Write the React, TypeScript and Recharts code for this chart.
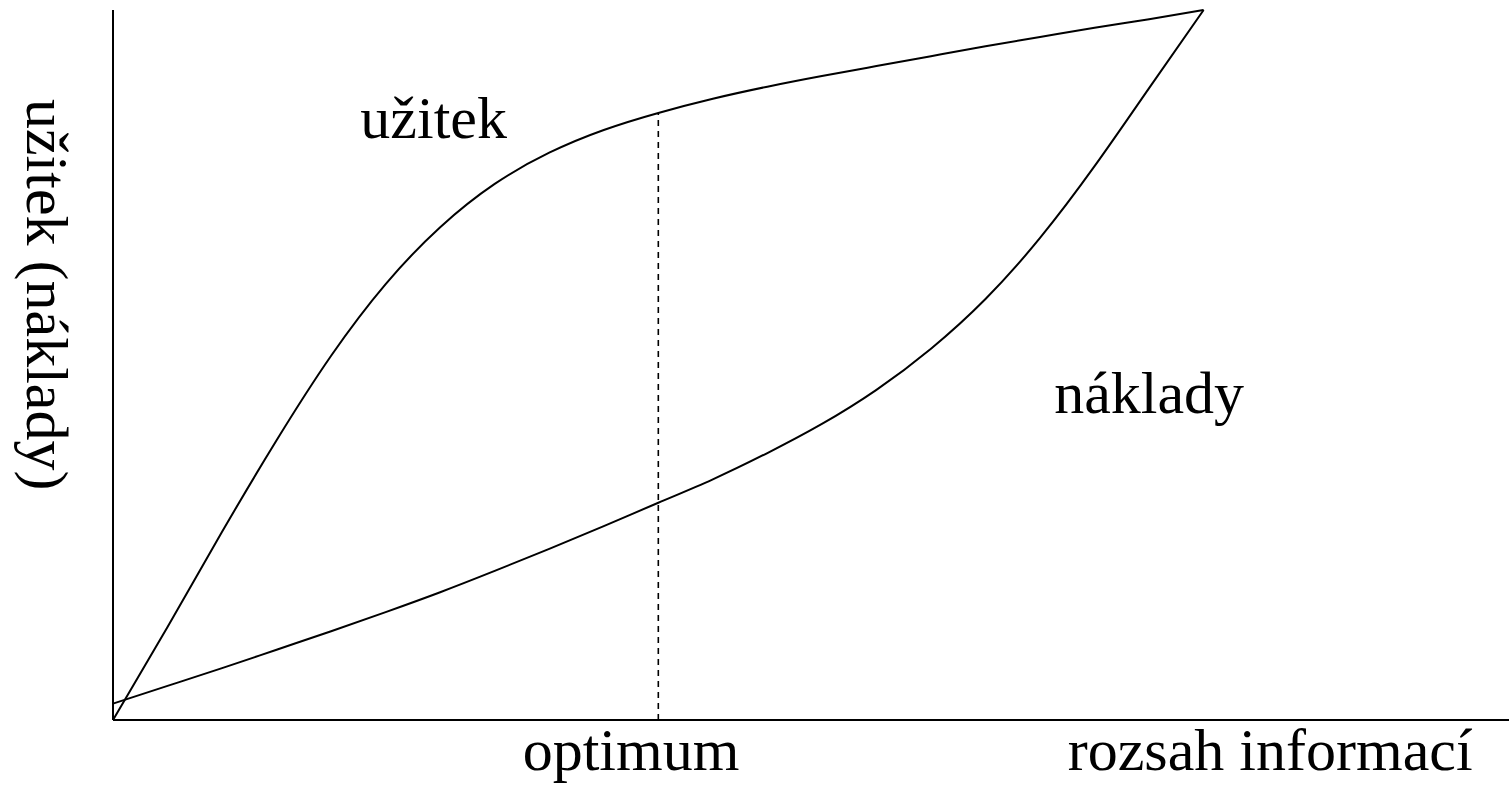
import { LineChart, Line, XAxis, YAxis, ReferenceLine, ReferenceDot } from "recharts";

// rozsah informací (0 = nic, 100 = bod, kde se křivky potkají)
const rozsah = [0, 5, 10, 15, 20, 25, 30, 35, 40, 45, 50, 55, 60, 65, 70, 75, 80, 85, 90, 95, 100];
const uzitek = [0, 13.1, 26.5, 39.4, 51.3, 61.4, 69.4, 75.5, 79.9, 83.1, 85.5, 87.5, 89.2, 90.7, 92.1, 93.5, 94.9, 96.2, 97.5, 98.7, 100];
const naklady = [2.3, 4.8, 7.3, 9.9, 12.5, 15.2, 18.0, 21.0, 24.1, 27.3, 30.6, 33.9, 37.6, 41.7, 46.5, 52.3, 59.3, 67.9, 78.0, 89.0, 100];

const optimum = 50;
const uzitekVOptimu = 85.5;

const data = rozsah.map((x, i) => ({ x, uzitek: uzitek[i], naklady: naklady[i] }));

const FONT = "'Liberation Serif', 'Times New Roman', serif";

function textLabel(value: string, rotate = false) {
  return (props: any) => {
    const vb = props.viewBox || {};
    const x = vb.x ?? 0;
    const y = vb.y ?? 0;
    return (
      <text
        x={x}
        y={y}
        textAnchor="middle"
        fontFamily={FONT}
        fontSize={60}
        fill="#000"
        transform={rotate ? `rotate(90 ${x} ${y})` : undefined}
      >
        {value}
      </text>
    );
  };
}

export default function App() {
  return (
    <div style={{ position: "absolute", left: 0, top: 0, background: "#fff" }}>
      <LineChart
        width={1509}
        height={785}
        data={data}
        margin={{ top: 10, right: 0, bottom: 64, left: 112 }}
      >
        <XAxis
          type="number"
          dataKey="x"
          domain={[0, 128]}
          height={1}
          tick={false}
          tickLine={false}
          axisLine={{ stroke: "#000", strokeWidth: 2 }}
        />
        <YAxis
          type="number"
          domain={[0, 100]}
          width={1}
          tick={false}
          tickLine={false}
          axisLine={{ stroke: "#000", strokeWidth: 2 }}
        />
        <ReferenceLine
          segment={[
            { x: optimum, y: 0 },
            { x: optimum, y: uzitekVOptimu },
          ]}
          stroke="#000"
          strokeWidth={1.6}
          strokeDasharray="6 5"
        />
        <Line
          type="natural"
          dataKey="uzitek"
          stroke="#000"
          strokeWidth={2}
          dot={false}
          isAnimationActive={false}
        />
        <Line
          type="natural"
          dataKey="naklady"
          stroke="#000"
          strokeWidth={2}
          dot={false}
          isAnimationActive={false}
        />
        <ReferenceDot x={29.4} y={82} r={0} ifOverflow="visible" label={textLabel("užitek")} />
        <ReferenceDot x={95} y={43.2} r={0} ifOverflow="visible" label={textLabel("náklady")} />
        <ReferenceDot x={47.5} y={-7} r={0} ifOverflow="visible" label={textLabel("optimum")} />
        <ReferenceDot x={106.1} y={-7} r={0} ifOverflow="visible" label={textLabel("rozsah informací")} />
        <ReferenceDot x={-7.9} y={59.9} r={0} ifOverflow="visible" label={textLabel("užitek (náklady)", true)} />
      </LineChart>
    </div>
  );
}
